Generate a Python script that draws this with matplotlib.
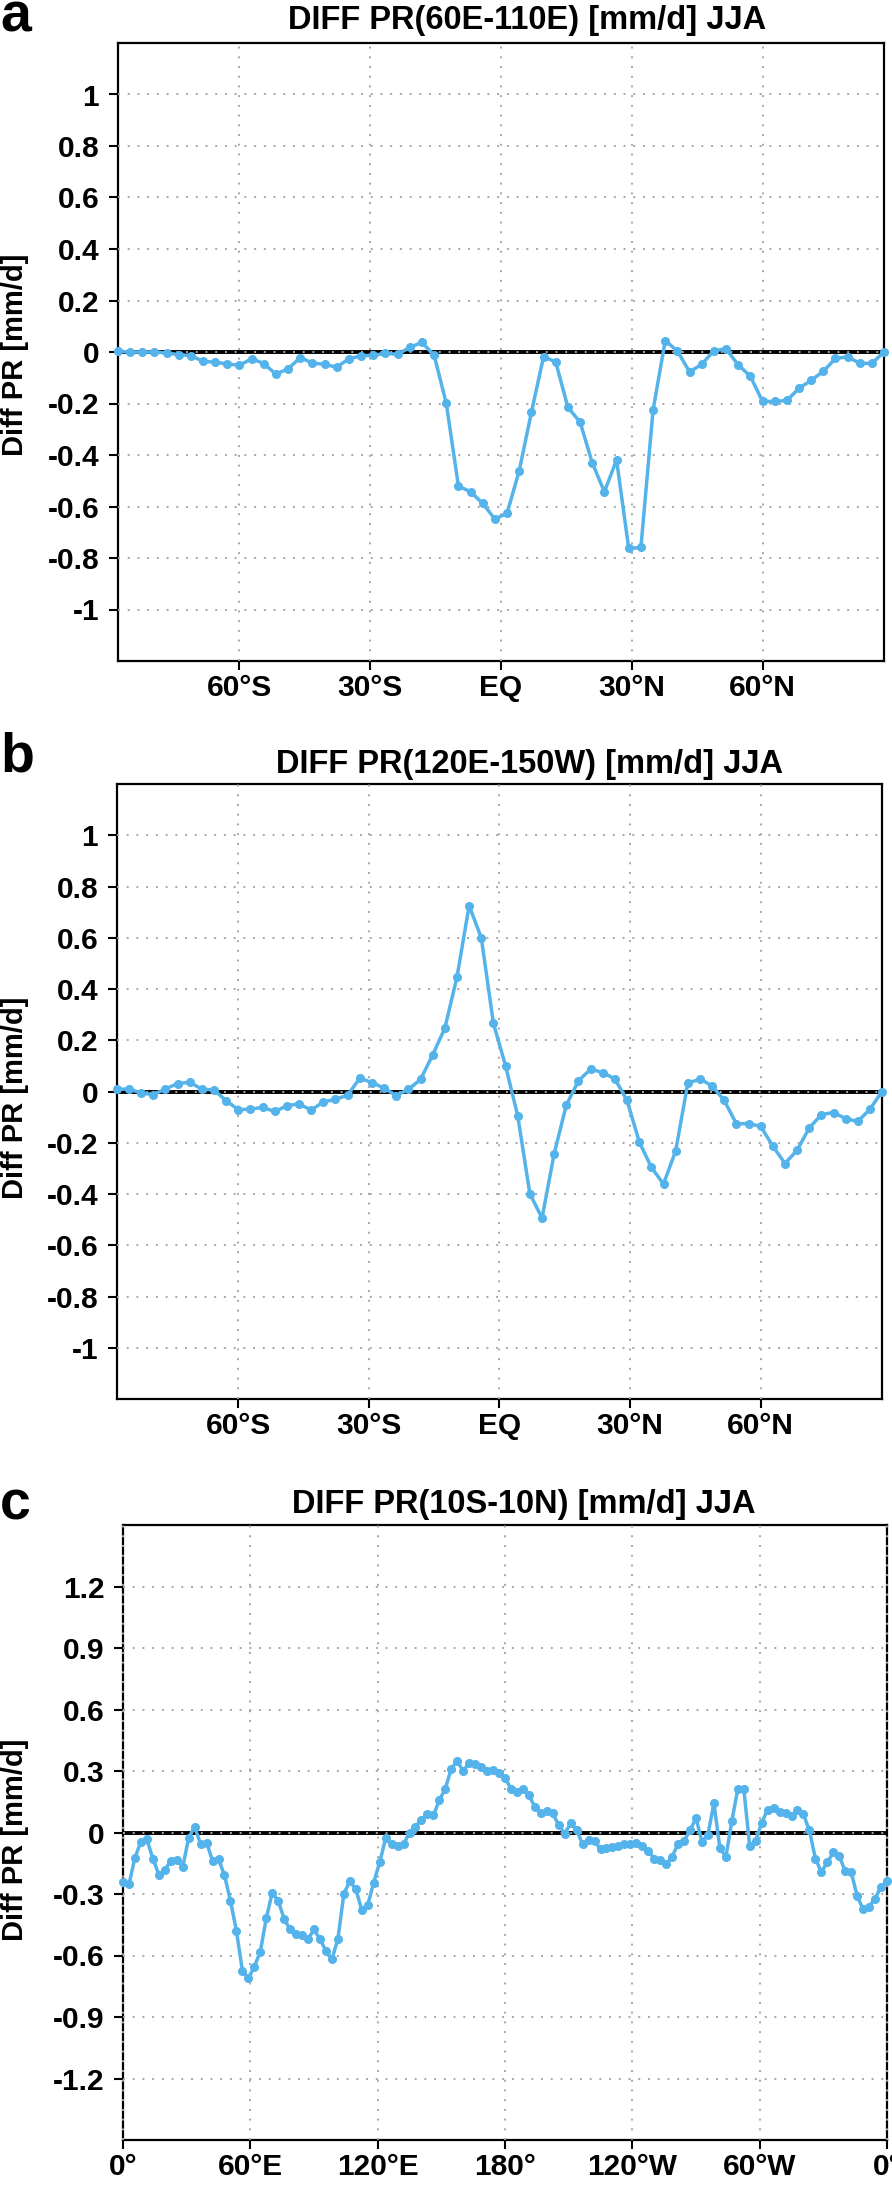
import matplotlib
matplotlib.use('Agg')
import matplotlib.pyplot as plt
import numpy as np

plt.rcParams['font.family'] = ['Liberation Sans', 'DejaVu Sans']
plt.rcParams['font.weight'] = 'bold'

# ---------------- data ----------------
# T42 gaussian latitudes (northern half, north -> equator)
lat_north = [87.8638, 85.0965, 82.3129, 79.5256, 76.7369, 73.9475, 71.1578, 68.3678,
             65.5776, 62.7874, 59.9970, 57.2066, 54.4162, 51.6257, 48.8352, 46.0447,
             43.2542, 40.4636, 37.6731, 34.8825, 32.0919, 29.3014, 26.5108, 23.7202,
             20.9296, 18.1390, 15.3484, 12.5578, 9.7671, 6.9765, 4.1859, 1.3953]
lat = [-v for v in lat_north] + lat_north[::-1]

pr_a = [0.003, 0.0, 0.0, 0.0, -0.004, -0.010, -0.014, -0.036, -0.040, -0.046,
        -0.052, -0.026, -0.045, -0.086, -0.065, -0.022, -0.043, -0.048, -0.059, -0.026,
        -0.015, -0.013, -0.005, -0.009, 0.018, 0.037, -0.012, -0.199, -0.521, -0.543,
        -0.588, -0.649, -0.626, -0.461, -0.234, -0.018, -0.039, -0.215, -0.272, -0.430,
        -0.543, -0.419, -0.763, -0.759, -0.226, 0.044, 0.004, -0.077, -0.048, 0.005,
        0.012, -0.050, -0.094, -0.192, -0.192, -0.188, -0.141, -0.110, -0.075, -0.025,
        -0.019, -0.044, -0.044, 0.0]

pr_b = [0.008, 0.010, -0.006, -0.012, 0.010, 0.031, 0.036, 0.009, 0.006, -0.036,
        -0.071, -0.069, -0.062, -0.078, -0.056, -0.048, -0.073, -0.040, -0.031, -0.014,
        0.052, 0.035, 0.013, -0.016, 0.008, 0.047, 0.143, 0.247, 0.447, 0.725,
        0.600, 0.266, 0.100, -0.095, -0.399, -0.494, -0.243, -0.053, 0.042, 0.087,
        0.074, 0.049, -0.035, -0.196, -0.296, -0.361, -0.232, 0.032, 0.049, 0.022,
        -0.035, -0.126, -0.125, -0.136, -0.213, -0.281, -0.229, -0.142, -0.090, -0.082,
        -0.106, -0.117, -0.069, 0.0]

lon = np.linspace(0, 360, 129)
pr_c = [-0.240, -0.253, -0.123, -0.045, -0.034, -0.127, -0.205, -0.185, -0.138, -0.132,
        -0.169, -0.026, 0.028, -0.057, -0.049, -0.138, -0.130, -0.208, -0.333, -0.479,
        -0.674, -0.711, -0.655, -0.582, -0.419, -0.294, -0.333, -0.422, -0.473, -0.495,
        -0.500, -0.520, -0.473, -0.521, -0.577, -0.619, -0.520, -0.300, -0.237, -0.276,
        -0.378, -0.354, -0.244, -0.146, -0.029, -0.057, -0.065, -0.058, 0.000, 0.029,
        0.062, 0.089, 0.083, 0.158, 0.213, 0.312, 0.349, 0.299, 0.340, 0.336,
        0.318, 0.300, 0.305, 0.288, 0.266, 0.214, 0.198, 0.210, 0.182, 0.125,
        0.097, 0.106, 0.093, 0.036, -0.005, 0.045, 0.013, -0.058, -0.037, -0.042,
        -0.081, -0.076, -0.073, -0.065, -0.058, -0.058, -0.050, -0.067, -0.091, -0.127,
        -0.132, -0.153, -0.119, -0.054, -0.041, 0.011, 0.070, -0.044, -0.010, 0.143,
        -0.075, -0.120, 0.055, 0.211, 0.214, -0.067, -0.041, 0.047, 0.112, 0.119,
        0.101, 0.097, 0.081, 0.109, 0.088, 0.011, -0.127, -0.192, -0.146, -0.097,
        -0.115, -0.188, -0.193, -0.309, -0.375, -0.362, -0.322, -0.265, -0.237]

lat_ticks = [-60, -30, 0, 30, 60]
lat_labels = ['60°S', '30°S', 'EQ', '30°N', '60°N']
ab_yticks = [1, 0.8, 0.6, 0.4, 0.2, 0, -0.2, -0.4, -0.6, -0.8, -1]
ab_ylabels = ['1', '0.8', '0.6', '0.4', '0.2', '0', '-0.2', '-0.4', '-0.6', '-0.8', '-1']

lon_ticks = [0, 60, 120, 180, 240, 300, 360]
lon_labels = ['0°', '60°E', '120°E', '180°', '120°W', '60°W', '0°']
c_yticks = [1.2, 0.9, 0.6, 0.3, 0, -0.3, -0.6, -0.9, -1.2]
c_ylabels = ['1.2', '0.9', '0.6', '0.3', '0', '-0.3', '-0.6', '-0.9', '-1.2']

titles = ['DIFF PR(60E-110E) [mm/d] JJA', 'DIFF PR(120E-150W) [mm/d] JJA',
          'DIFF PR(10S-10N) [mm/d] JJA']
letters = ['a', 'b', 'c']
ylabel = 'Diff PR [mm/d]'

# ---------------- figure ----------------
W, H = 892, 2186
fig = plt.figure(figsize=(W / 100, H / 100), dpi=100)


def box(l, t, r, b):
    return [l / W, 1 - b / H, (r - l) / W, (b - t) / H]


BLUE = '#53B3EA'
GRID = '#A6A6A6'


def panel(rect, x, y, xlim, xticks, xlabels, ylim, yticks, ylabels):
    ax = fig.add_axes(rect)
    ax.set_xlim(xlim)
    ax.set_ylim(ylim)
    ax.axhline(0, color='black', lw=2.8, zorder=2)
    for xv in xticks:
        ax.axvline(xv, color=GRID, lw=1.4, ls=(0, (1, 4)), zorder=3, clip_on=False)
    for yv in yticks:
        ax.axhline(yv, color=GRID, lw=1.4, ls=(0, (1, 4)), zorder=3)
    ax.plot(x, y, color=BLUE, lw=2.5, marker='o', ms=5.5, zorder=5, clip_on=False)
    ax.set_xticks(xticks)
    ax.set_xticklabels(xlabels)
    ax.set_yticks(yticks)
    ax.set_yticklabels(ylabels)
    ax.tick_params(axis='both', direction='out', length=6.5, width=1.5,
                   labelsize=21.5, top=False, right=False)
    ax.tick_params(axis='x', pad=3)
    ax.tick_params(axis='y', pad=7)
    for s in ax.spines.values():
        s.set_linewidth(1.6)
        s.set_zorder(2.5)
    return ax


panel(box(118, 43, 884, 661), lat, pr_a, (-87.8638, 87.8638), lat_ticks, lat_labels,
      (-1.2, 1.2), ab_yticks, ab_ylabels)
panel(box(117, 784, 882, 1399), lat, pr_b, (-87.8638, 87.8638), lat_ticks, lat_labels,
      (-1.2, 1.2), ab_yticks, ab_ylabels)
panel(box(123, 1525, 887, 2140), lon, pr_c, (0, 360), lon_ticks, lon_labels,
      (-1.5, 1.5), c_yticks, c_ylabels)

# titles, letters, y labels (pixel positions)
title_pos = [(527, 29), (530, 773), (524, 1513)]
letter_pos = [(0, 31), (0, 771), (0, 1520)]
ylab_pos = [(15, 355), (15, 1098), (15, 1840)]
for t, (tx, ty) in zip(titles, title_pos):
    fig.text(tx / W, 1 - ty / H, t, ha='center', va='baseline', fontsize=23.5, fontweight='bold')
for l, (lx, ly) in zip(letters, letter_pos):
    fig.text(lx / W, 1 - ly / H, l, ha='left', va='baseline', fontsize=40, fontweight='bold')
for (yx, yy) in ylab_pos:
    fig.text(yx / W, 1 - yy / H, ylabel, ha='center', va='center', rotation=90,
             fontsize=21, fontweight='bold')

fig.savefig('out.png', dpi=100)
